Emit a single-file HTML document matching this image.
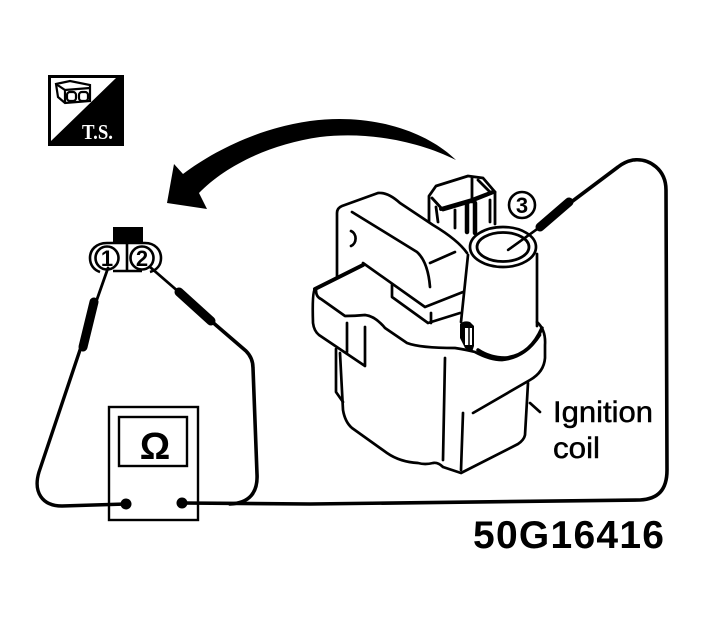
<!DOCTYPE html>
<html><head><meta charset="utf-8"><style>
html,body{margin:0;padding:0;background:#fff}
svg{display:block}
text{font-family:"Liberation Sans",sans-serif;fill:#000}
</style></head><body>
<svg width="708" height="626" viewBox="0 0 708 626" xmlns="http://www.w3.org/2000/svg">
<rect width="708" height="626" fill="#fff"/>
<!-- T.S. icon -->
<rect x="48" y="75" width="76" height="71" fill="#000"/>
<polygon points="51,78 116,78 51,141" fill="#fff"/>
<g fill="#fff" stroke="#000" stroke-width="2.2">
<path d="M56,84 L70,81 L90,85 L90,101 L65,103 L58,97Z"/>
<path d="M56,84 L65,90 L90,88 M65,90 V103"/>
<rect x="67" y="92" width="9" height="9" rx="3"/><rect x="79" y="92" width="9" height="9" rx="3"/>
</g>
<text x="82" y="139" font-size="21" style="fill:#fff;font-family:'Liberation Serif',serif;font-weight:bold" textLength="31" lengthAdjust="spacingAndGlyphs">T.S.</text>
<!-- big arrow -->
<path d="M167,203 L174,164 L183,174 C215,150 260,128 310,121 C370,113 425,130 456,160 C420,142 370,131 320,137 C270,144 225,166 199,193 L207,209Z" fill="#000"/>
<!-- connector -->
<rect x="113" y="227" width="30" height="16" fill="#000"/>
<g fill="none" stroke="#000">
<path d="M127,243 H107 C96,243 90,250 90,258 C90,265 94,270 100,272 M127,243 V271 M113,271 H142 M127,243 H145 C155,243 161,250 161,258 C161,265 157,270 150,272" stroke-width="2.6"/>
<circle cx="107" cy="258" r="11.5" stroke-width="2.6" fill="#fff"/>
<circle cx="142" cy="258" r="11.5" stroke-width="2.6" fill="#fff"/>
</g>
<text x="107" y="266" font-size="22" font-weight="bold" text-anchor="middle">1</text>
<text x="142" y="266" font-size="22" font-weight="bold" text-anchor="middle">2</text>
<!-- leads -->
<g fill="none" stroke="#000" stroke-linecap="round" stroke-linejoin="round">
<path d="M108,268 L95,305" stroke-width="2.8"/>
<path d="M94,302 L83,347" stroke-width="9"/>
<path d="M81,347 L39,472 C33,492 42,506 62,506 L126,504" stroke-width="3.4"/>
<path d="M150,267 L180,293" stroke-width="2.8"/>
<path d="M179,292 L211,321" stroke-width="9"/>
<path d="M210,320 L246,351 C251,356 253,361 253,368 L257,474 C258,492 250,503 230,504" stroke-width="3.6"/>
<path d="M182,503 L310,504 L640,500 C658,499 667,490 667,470 L666,190 C666,170 650,158 633,160 C628,161 623,163 618,167 L570,203" stroke-width="3.6"/>
<path d="M569,202 L540,227" stroke-width="9"/>
<path d="M540,227 L508,250" stroke-width="2.4"/>
</g>
<!-- meter -->
<rect x="109" y="407" width="89" height="113" fill="none" stroke="#000" stroke-width="2.4"/>
<rect x="119" y="417" width="68" height="49" fill="none" stroke="#000" stroke-width="2.4"/>
<text x="155" y="459" font-size="38" text-anchor="middle" font-weight="bold">Ω</text>
<circle cx="126" cy="504" r="5.5" fill="#000"/>
<circle cx="182" cy="503" r="5.5" fill="#000"/>
<!-- top connector -->
<g fill="none" stroke="#000" stroke-width="2.8" stroke-linejoin="round" stroke-linecap="round">
<path d="M429,222 V196 L436,186 L468,176 L483,178 L495,192 L470,202 L443,210 L432,198"/>
<path d="M436,207 L438,222 M495,192 V224 M472,178 V202 M455,210 V228 M490,200 V222 M478,180 L490,192"/>
<path d="M467,203 V232 M475,203 V233" stroke-width="4.5"/>
<path d="M441,209 L472,200 L493,192" stroke-width="4"/>
</g>
<!-- bracket -->
<g fill="none" stroke="#000" stroke-width="2.7" stroke-linejoin="round" stroke-linecap="round">
<path d="M337,277 V213 Q337,208 342,206 L378,193 Q388,192 400,203 L433,225 Q458,240 467,253"/>
<path d="M352,212 L417,252 Q428,262 430,287"/>
<path d="M430,263 L455,252"/>
<path d="M351,231 A7,8 0 0 1 351,246 "/>
<path d="M363,263 L425,307 L463,292"/>
<path d="M392,285 V297 L428,323 L460,313 M431,313 V323"/>
<path d="M315,289 L337,278 L363,265" stroke-width="4"/>
<path d="M315,289 Q312,292 313,323 Q314,331 319,335 L365,366 V327 M347,323 V352"/>
<path d="M316,290 Q316,297 321,299 L345,316 Q355,316 365,315 Q375,316 385,328 L407,343 Q420,348 455,348 Q468,350 475,352 Q490,360 502,360 Q525,358 540,335"/>
<path d="M478,350 Q490,358 505,358 Q530,356 542,328" stroke-width="3.5"/>
<path d="M537,322 Q546,330 545,345 V358 Q544,372 530,380 L473,413"/>
<path d="M445,358 L443,460 M463,413 L461,470"/>
<path d="M528,383 L525,435 Q524,440 518,444 L461,473 L443,467 Q438,462 433,463 Q425,465 418,463 Q400,462 387,453 L352,428 Q345,422 343,410 L340,353"/>
<path d="M336,349 V392 L343,402"/>
<path d="M530,403 L540,412"/>
<!-- cylinder -->
<ellipse cx="503" cy="247" rx="33" ry="20"/>
<ellipse cx="503" cy="247" rx="26" ry="14.5" stroke-width="2.8"/>
<path d="M468,255 L461,322 M537,254 V326"/>
</g>
<path d="M508,250 L540,227" stroke="#000" stroke-width="2.4"/>
<path d="M460,324 Q464,320 470,322 L474,326 V346 L472,352 L465,348 L460,338Z" fill="#000"/>
<rect x="465" y="328" width="7" height="17" fill="#fff"/>
<path d="M469,328 V345" stroke="#000" stroke-width="1.5"/>
<!-- circled 3 -->
<circle cx="522" cy="205" r="13" fill="#fff" stroke="#000" stroke-width="2.6"/>
<text x="522" y="213" font-size="22" font-weight="bold" text-anchor="middle">3</text>
<!-- labels -->
<text x="553" y="422" font-size="30" stroke="#000" stroke-width=".5" textLength="100" lengthAdjust="spacingAndGlyphs">Ignition</text>
<text x="553" y="458" font-size="30" stroke="#000" stroke-width=".5" textLength="47" lengthAdjust="spacingAndGlyphs">coil</text>
<text x="473" y="548" font-size="39" font-weight="bold" textLength="191" lengthAdjust="spacing">50G16416</text>
</svg>
</body></html>
